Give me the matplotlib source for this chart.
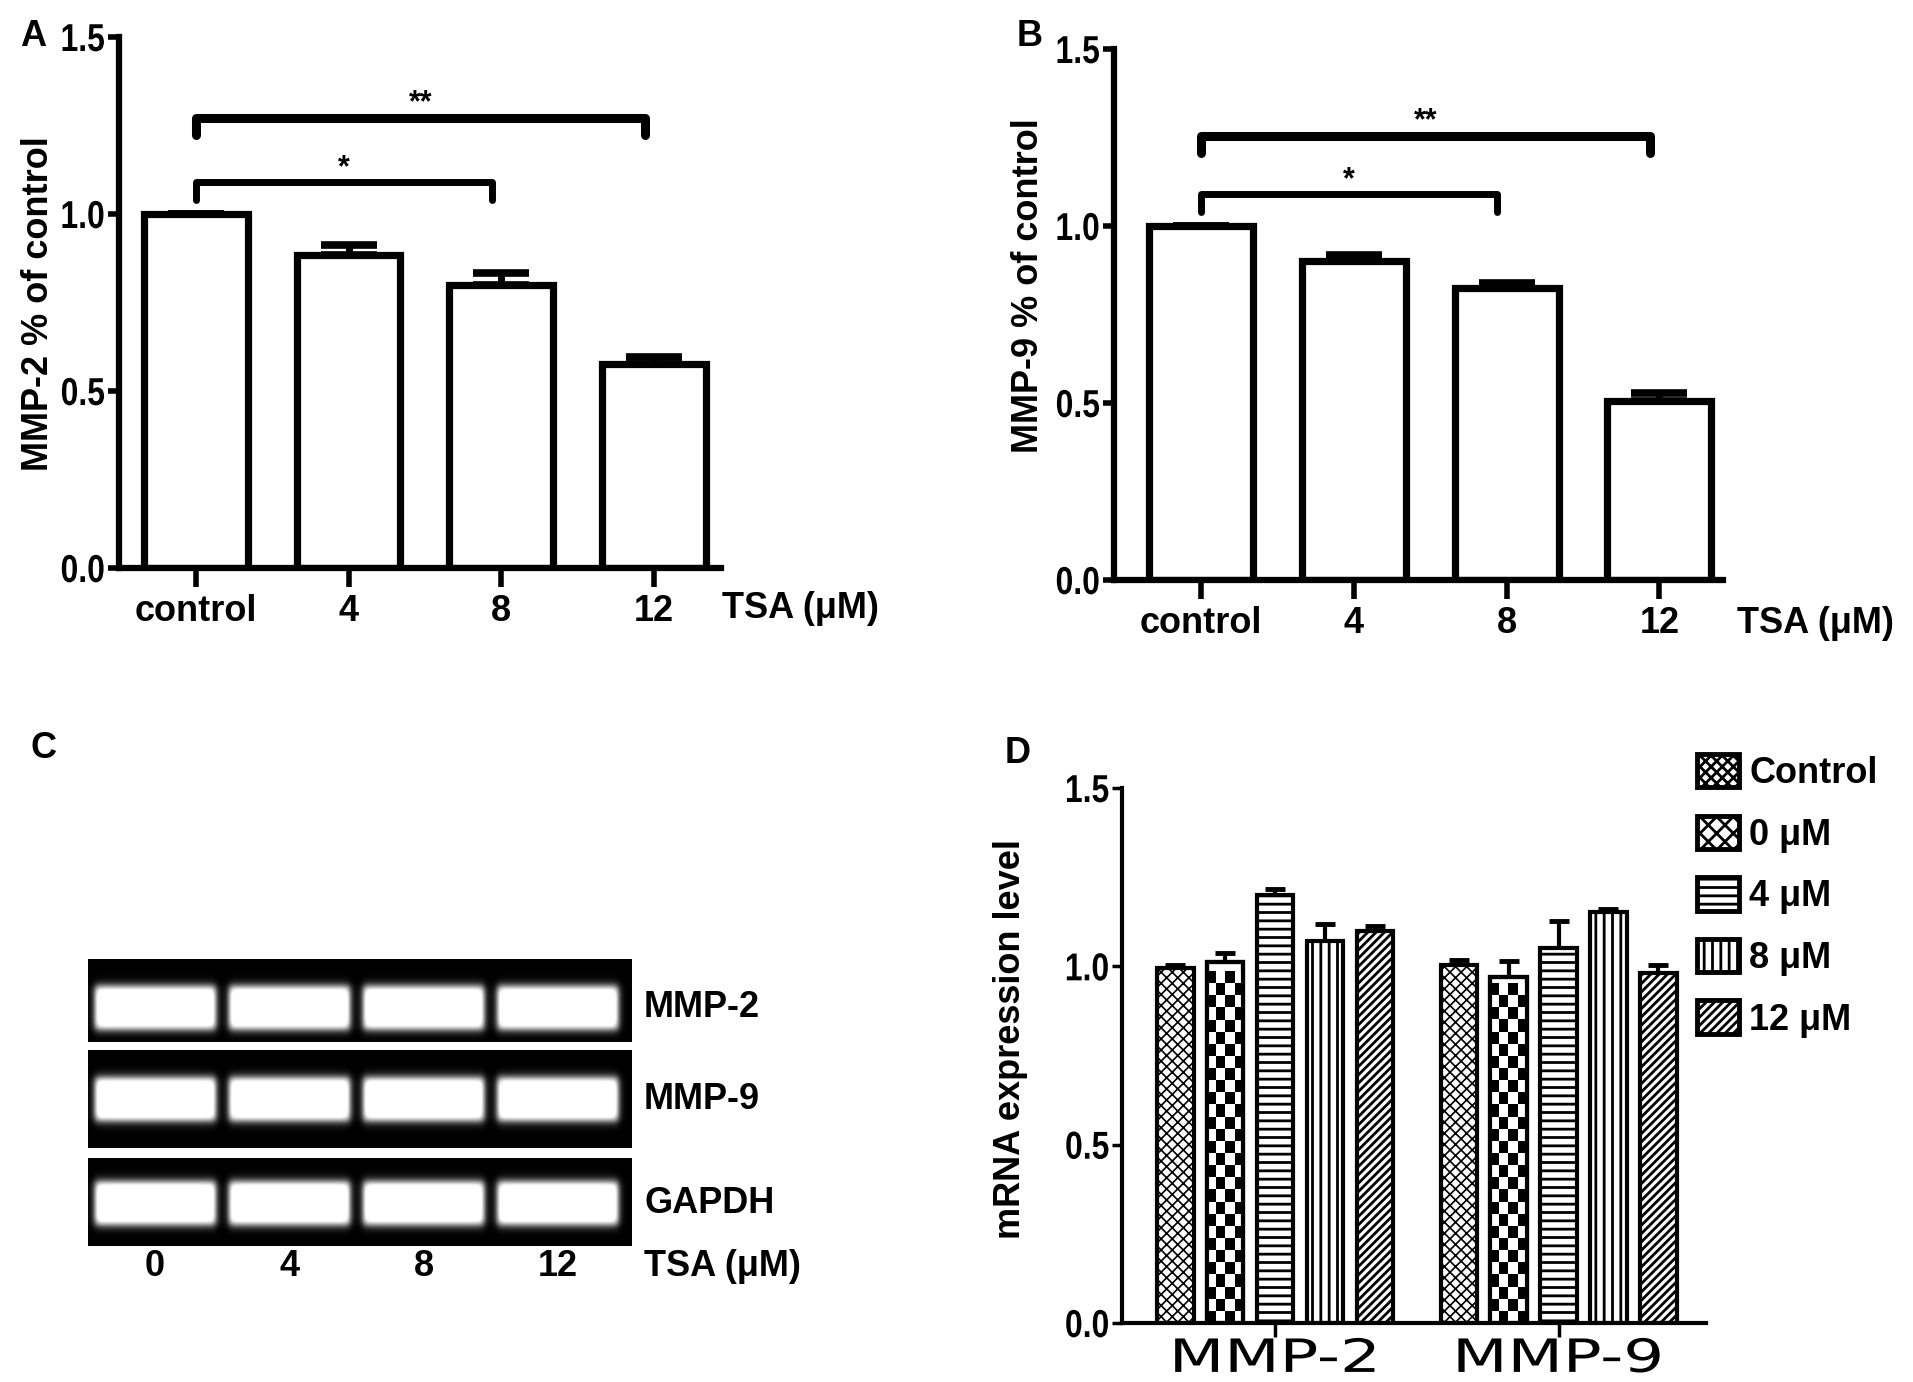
import numpy as np
import matplotlib
matplotlib.use("Agg")
import matplotlib.pyplot as plt
from matplotlib.patches import Rectangle
from matplotlib.patheffects import AbstractPathEffect
from matplotlib.transforms import Affine2D

plt.rcParams['font.family'] = ['Liberation Sans', 'DejaVu Sans']
plt.rcParams['font.weight'] = 'bold'
plt.rcParams['axes.labelweight'] = 'bold'
plt.rcParams['hatch.linewidth'] = 2.0

# panel A / B data (fraction of control)
tsa_labels = ['control', '4', '8', '12']
mmp2_protein = [1.0, 0.885, 0.80, 0.575]
mmp2_protein_err = [0.0, 0.028, 0.032, 0.022]
mmp9_protein = [1.0, 0.90, 0.826, 0.507]
mmp9_protein_err = [0.0, 0.018, 0.014, 0.02]

# significance brackets: (from, to, level, stars)
brackets_a = [(0, 2, 1.09, '*'), (0, 3, 1.272, '**')]
brackets_b = [(0, 2, 1.09, '*'), (0, 3, 1.255, '**')]

# panel C gel lanes
gel_lanes = ['0', '4', '8', '12']
gel_genes = ['MMP-2', 'MMP-9', 'GAPDH']
band_intensity = {
    'MMP-2': [1.0, 1.0, 1.0, 1.0],
    'MMP-9': [1.0, 1.0, 1.0, 1.0],
    'GAPDH': [1.0, 1.0, 1.0, 1.0],
}

# panel D data (mRNA expression)
genes = ['MMP-2', 'MMP-9']
series = ['Control', '0 μM', '4 μM', '8 μM', '12 μM']
mrna = {
    'Control': [0.994, 1.005],
    '0 μM': [1.012, 0.970],
    '4 μM': [1.201, 1.051],
    '8 μM': [1.070, 1.152],
    '12 μM': [1.098, 0.980],
}
mrna_err = {
    'Control': [0.01, 0.012],
    '0 μM': [0.025, 0.045],
    '4 μM': [0.015, 0.075],
    '8 μM': [0.05, 0.01],
    '12 μM': [0.015, 0.025],
}
hatches = ['xxx', None, '--', '||', '////']
ytick_vals = [0, 0.5, 1.0, 1.5]
ytick_labels = ['0.0', '0.5', '1.0', '1.5']

W, H = 1913, 1382
fig = plt.figure(figsize=(W / 100, H / 100), dpi=100)


class StretchX(AbstractPathEffect):
    # widen (or narrow) text horizontally about its centre
    def __init__(self, sx, anchor='center'):
        super().__init__()
        self.sx = sx
        self.anchor = anchor

    def draw_path(self, renderer, gc, tpath, affine, rgbFace=None):
        ext = tpath.get_extents()
        cx = ext.x1 if self.anchor == 'right' else (ext.x0 + ext.x1) / 2
        tr = Affine2D().translate(-cx, 0).scale(self.sx, 1).translate(cx, 0) + affine
        renderer.draw_path(gc, tpath, tr, rgbFace)


def frac(x0, y0, x1, y1):
    # pixel box -> figure fraction rect
    return [x0 / W, 1 - y1 / H, (x1 - x0) / W, (y1 - y0) / H]


def condense_yticks(ax):
    for t in ax.get_yticklabels():
        t.set_path_effects([StretchX(0.82, 'right')])


def protein_panel(ax, vals, errs, brackets, ylabel, xmin, xmax, lab_xy):
    x = np.arange(len(vals))
    ax.bar(x, vals, width=0.68, color='white', edgecolor='black', linewidth=5.2, zorder=2)
    ax.errorbar(x, vals, yerr=[np.zeros(len(errs)), errs], fmt='none', ecolor='black',
                elinewidth=5, capsize=20, capthick=5.5, zorder=1)
    for i0, i1, lev, stars in brackets:
        xs = [x[i0], x[i0], x[i1] - 0.06, x[i1] - 0.06]
        ys = [lev - 0.05, lev, lev, lev - 0.05]
        lw = 6.5 if stars == '**' else 5
        ax.plot(xs, ys, color='black', lw=lw, solid_capstyle='round', solid_joinstyle='round', clip_on=False)
        ax.text((x[i0] + x[i1]) / 2 - 0.03, lev + 0.04, stars, ha='center', va='center', fontsize=22,
                clip_on=False)
    ax.set_xlim(xmin, xmax)
    ax.set_ylim(0, 1.5)
    ax.set_yticks(ytick_vals)
    ax.set_yticklabels(ytick_labels, fontsize=28)
    condense_yticks(ax)
    ax.set_xticks(x)
    ax.set_xticklabels(tsa_labels)
    for s in ['top', 'right']:
        ax.spines[s].set_visible(False)
    for s in ['left', 'bottom']:
        ax.spines[s].set_linewidth(4.5)
    ax.tick_params(axis='y', length=8, width=4, pad=2)
    ax.tick_params(axis='x', length=14, width=4, labelsize=26, pad=5)
    ax.set_ylabel(ylabel, fontsize=26)
    ax.yaxis.set_label_coords(*lab_xy)


axA = fig.add_axes(frac(119, 37, 721, 568))
protein_panel(axA, mmp2_protein, mmp2_protein_err, brackets_a, 'MMP-2 % of control', -0.504, 3.44,
              (-0.104, 0.497))
axB = fig.add_axes(frac(1114, 49, 1723, 580))
protein_panel(axB, mmp9_protein, mmp9_protein_err, brackets_b, 'MMP-9 % of control', -0.568, 3.416,
              (-0.112, 0.554))
fig.text(800 / W, 1 - 609 / H, 'TSA (μM)', fontsize=26, ha='center', va='center')
fig.text(1815 / W, 1 - 623 / H, 'TSA (μM)', fontsize=26, ha='center', va='center')

# panel C: gel
axC = fig.add_axes(frac(88, 959, 632, 1246))
axC.set_xlim(-0.5, 3.55)
axC.set_ylim(1, 0)
axC.axis('off')
strips = [(0.0, 0.289, 0.17), (0.319, 0.66, 0.49), (0.694, 1.0, 0.851)]
xg = np.linspace(-0.5, 3.55, 700)
for gene, (top, bot, yc) in zip(gel_genes, strips):
    yg = np.linspace(top, bot, 90)
    X, Y = np.meshgrid(xg, yg)
    img = np.zeros_like(X)
    for i, inten in enumerate(band_intensity[gene]):
        bx = 1 / (1 + np.exp(-(0.45 - np.abs(X - i)) / 0.014))
        by = 1 / (1 + np.exp(-(0.075 - np.abs(Y - yc)) / 0.009))
        img += 1.25 * inten * bx * by
    axC.imshow(np.clip(img, 0, 1), extent=(-0.5, 3.55, bot, top), cmap='gray', vmin=0, vmax=1,
               aspect='auto', interpolation='bilinear')
    axC.text(3.64, yc, gene, fontsize=26, ha='left', va='center')
for i, lab in enumerate(gel_lanes):
    axC.text(i, 1.07, lab, fontsize=26, ha='center', va='center')
axC.text(3.64, 1.07, 'TSA (μM)', fontsize=26, ha='left', va='center')

# panel D: mRNA
axD = fig.add_axes(frac(1122, 788, 1706, 1323))
gx = np.arange(len(genes))
pitch, bw = 0.176, 0.129
for k, name in enumerate(series):
    xs = gx + (k - 2) * pitch
    bars = axD.bar(xs, mrna[name], width=bw, color='white', edgecolor='black', linewidth=3,
                   hatch=hatches[k], zorder=2)
    if k == 0:
        for b in bars:
            if hasattr(b, 'set_hatch_linewidth'):
                b.set_hatch_linewidth(1.2)
    if hatches[k] is None:
        # checkerboard fill
        for b in bars:
            nrow = int(b.get_height() / 0.034)
            chk = (np.indices((nrow, 4)).sum(axis=0) % 2).astype(float)
            im = axD.imshow(chk, cmap='gray', vmin=0, vmax=1, aspect='auto', interpolation='nearest',
                            extent=(b.get_x(), b.get_x() + b.get_width(), 0, nrow * 0.034), zorder=2.1)
            im.set_clip_path(b)
            axD.add_patch(Rectangle((b.get_x(), 0), b.get_width(), b.get_height(), fill=False,
                                    edgecolor='black', lw=3, zorder=2.2))
    axD.errorbar(xs, mrna[name], yerr=[np.zeros(len(genes)), mrna_err[name]], fmt='none',
                 ecolor='black', elinewidth=3, capsize=7.5, capthick=3.5, zorder=1)
axD.set_xlim(-0.54, 1.52)
axD.set_ylim(0, 1.5)
axD.set_yticks(ytick_vals)
axD.set_yticklabels(ytick_labels, fontsize=28)
condense_yticks(axD)
axD.set_xticks(gx)
axD.set_xticklabels(genes, fontsize=33, fontweight='normal', family='DejaVu Sans')
for t in axD.get_xticklabels():
    t.set_path_effects([StretchX(1.4)])
for s in ['top', 'right']:
    axD.spines[s].set_visible(False)
for s in ['left', 'bottom']:
    axD.spines[s].set_linewidth(3)
axD.tick_params(axis='y', length=7, width=2.5, pad=2)
axD.tick_params(axis='x', length=10, width=2.5, pad=0)
axD.set_ylabel('mRNA expression level', fontsize=26)
axD.yaxis.set_label_coords(-0.161, 0.53)
handles = [Rectangle((0, 0), 1, 1, facecolor='white', edgecolor='black', lw=3.5,
                     hatch=(h if h else 'xx')) for h in hatches]
axD.legend(handles, series, loc='upper left', bbox_to_anchor=(1697 / W, 1 - 754 / H),
           bbox_transform=fig.transFigure, frameon=False, fontsize=26, handlelength=1.15,
           handleheight=1.05, labelspacing=0.68, handletextpad=0.3, borderpad=0, borderaxespad=0)

# panel letters
for lab, px, py in [('A', 33, 37), ('B', 1030, 37), ('C', 43, 748), ('D', 1018, 754)]:
    fig.text(px / W, 1 - py / H, lab, fontsize=26, ha='center', va='center')

fig.savefig('out.png', dpi=100)
